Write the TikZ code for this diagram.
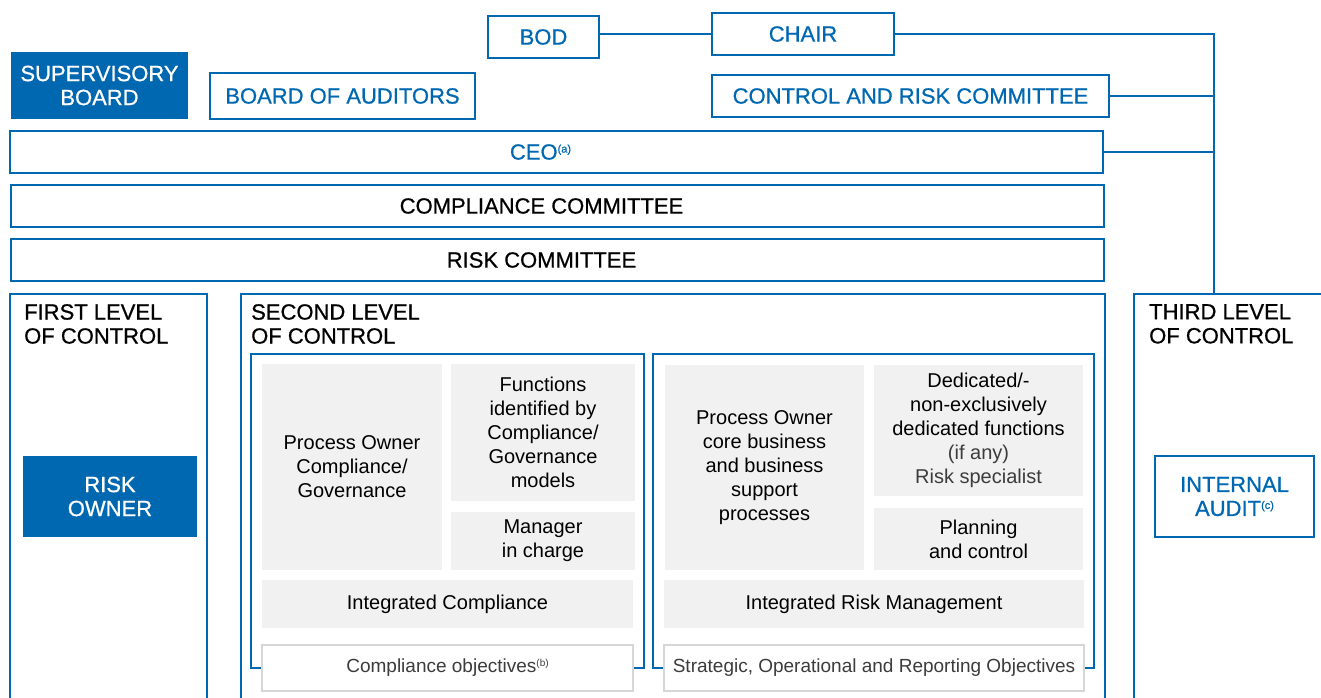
\documentclass[tikz,border=0pt]{standalone}
\usepackage{fontspec}
\setmainfont{Liberation Sans}
\newfontfamily\medfam{Liberation Sans}[FakeBold=0.7]
\definecolor{ibl}{RGB}{0,103,177}
\definecolor{gbg}{RGB}{241,241,241}
\definecolor{gln}{RGB}{214,214,214}
\definecolor{txg}{RGB}{60,60,60}
\newcommand{\headfont}{\medfam\fontsize{22}{24}\selectfont}
\newcommand{\boxfont}{\fontsize{20}{24}\selectfont}
\newcommand{\objfont}{\fontsize{19}{22}\selectfont}
\newcommand{\supmark}[1]{\raisebox{7pt}{\fontsize{11}{11}\selectfont(#1)}}

\begin{document}
\begin{tikzpicture}[x=1pt,y=-1pt,
  wh/.style 2 args={minimum width=#1,minimum height=#2},
  blubox/.style={draw=ibl,line width=1.6pt,text=ibl,font=\headfont,inner sep=0pt,align=center},
  bar/.style={draw=ibl,line width=1.6pt,font=\headfont,inner sep=0pt,execute at end node={\hspace*{32pt}}},
  fullbox/.style={fill=ibl,text=white,font=\headfont,inner sep=0pt,align=center},
  level/.style={draw=ibl,line width=1.6pt,inner sep=0pt},
  title/.style={font=\headfont,align=left,anchor=north west,inner sep=0pt},
  inbox/.style={draw=ibl,line width=1.3pt,inner sep=0pt},
  greybox/.style={fill=gbg,font=\boxfont,inner sep=0pt,align=center},
  objbox/.style={fill=white,draw=gln,line width=1.2pt,text=txg,font=\objfont,inner sep=0pt},
  link/.style={ibl,line width=1.6pt}]
 \useasboundingbox (0,0) rectangle (1321,697);

 % governing bodies
 \node[blubox,wh={111}{42}] (bod) at (543.5,37) {BOD};
 \node[blubox,wh={182}{42}] (chair) at (803,34) {CHAIR};
 \node[fullbox,wh={177}{67}] (sup) at (99.5,85.5) {SUPERVISORY\\BOARD};
 \node[blubox,wh={265}{46}] (aud) at (342.5,96) {BOARD OF AUDITORS};
 \node[blubox,wh={397}{42}] (crc) at (910.5,96) {CONTROL AND RISK COMMITTEE};

 % committees
 \node[bar,text=ibl,wh={1093}{42}] (ceo) at (556.5,152) {CEO\supmark{a}};
 \node[bar,wh={1093}{42}] (cc) at (557.5,206) {COMPLIANCE COMMITTEE};
 \node[bar,wh={1093}{42}] (rc) at (557.5,260) {RISK COMMITTEE};

 % three levels of control
 \node[level,wh={197}{420}] (first) at (108.5,504) {};
 \node[level,wh={864}{420}] (second) at (673,504) {};
 \node[level,wh={206}{420}] (third) at (1237,504) {};
 \node[title] (t1) at (24,304) {FIRST LEVEL\\OF CONTROL};
 \node[title] (t2) at (251,304) {SECOND LEVEL\\OF CONTROL};
 \node[title] (t3) at (1149,304) {THIRD LEVEL\\OF CONTROL};

 \node[fullbox,wh={174}{81}] (ro) at (110,496.5) {RISK\\OWNER};
 \node[blubox,wh={159}{81}] (ia) at (1234.5,496.5) {INTERNAL\\AUDIT\supmark{c}};

 % compliance side
 \node[inbox,wh={393}{314}] (cbox) at (447.5,511) {};
 \node[greybox,wh={180}{206}] (po1) at (352,467) {Process Owner\\Compliance/\\Governance};
 \node[greybox,wh={184}{137}] (fn) at (543,432.5) {Functions\\identified by\\Compliance/\\Governance\\models};
 \node[greybox,wh={184}{58}] (mg) at (543,541) {Manager\\in charge};
 \node[greybox,wh={371}{48}] (ic) at (447.5,604) {Integrated Compliance};
 \node[objbox,wh={371}{46}] (co) at (447.5,668) {Compliance objectives\raisebox{6pt}{\fontsize{10}{10}\selectfont(b)}};

 % risk side
 \node[inbox,wh={441}{314}] (rbox) at (873.5,511) {};
 \node[greybox,wh={199}{205}] (po2) at (764.5,467.5) {Process Owner\\core business\\and business\\support\\processes};
 \node[greybox,wh={209}{131}] (dd) at (978.5,430.5) {Dedicated/-\\non-exclusively\\dedicated functions\\\textcolor{txg}{(if any)}\\\textcolor{txg}{Risk specialist}};
 \node[greybox,wh={209}{62}] (pc) at (978.5,539) {Planning\\and control};
 \node[greybox,wh={420}{48}] (irm) at (874,604) {Integrated Risk Management};
 \node[objbox,wh={420}{46}] (sro) at (874,668) {Strategic, Operational and Reporting Objectives};

 % links to internal audit
 \coordinate (spine) at (1214,34);
 \draw[link] (bod.east |- chair.west) -- (chair.west);
 \draw[link] (chair.east) -- (spine) -- (spine |- third.north);
 \foreach \n in {crc,ceo}
   \draw[link] (\n.east) -- (\n.east -| spine);
\end{tikzpicture}
\end{document}
